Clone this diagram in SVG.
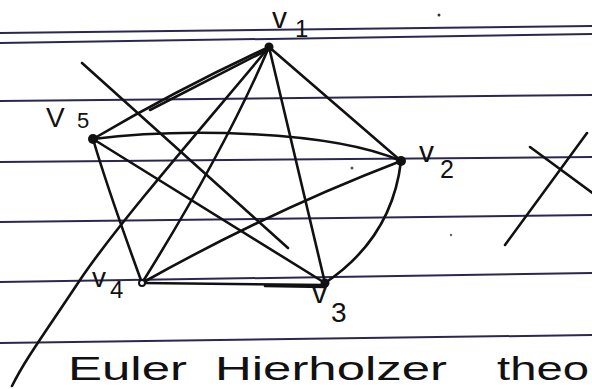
<svg xmlns="http://www.w3.org/2000/svg" width="592" height="389" viewBox="0 0 592 389">
  <style>
    .rule { stroke: #2a2850; stroke-width: 2; fill: none; }
    .edge { stroke: #111; stroke-width: 2.6; fill: none; stroke-linecap: round; }
    .dot { fill: #111; }
    .lbl { font-family: "Liberation Sans", "DejaVu Sans", sans-serif; fill: #111; }
    .big { font-family: "Liberation Sans", "DejaVu Sans", sans-serif; fill: #111; font-size: 33px; }
  </style>
  <rect width="592" height="389" fill="#ffffff"/>
  <g id="paper">
    <line class="rule" x1="0" y1="33" x2="592" y2="26"/>
    <line class="rule" x1="0" y1="43" x2="592" y2="34"/>
    <line class="rule" x1="0" y1="101" x2="592" y2="95"/>
    <line class="rule" x1="0" y1="162" x2="592" y2="157"/>
    <line class="rule" x1="0" y1="222" x2="592" y2="215"/>
    <line class="rule" x1="0" y1="282" x2="592" y2="273"/>
    <line class="rule" x1="0" y1="343" x2="592" y2="335"/>
    <circle cx="439" cy="15" r="1.5" fill="#333"/>
    <circle cx="352" cy="168" r="1.5" fill="#555"/>
    <circle cx="451" cy="235" r="1.2" fill="#666"/>
  </g>
  <g id="connectors">
    <path class="edge" d="M269,47 L401,161"/>
    <path class="edge" d="M269,47 L325,283"/>
    <path class="edge" d="M269,47 Q225,150 142,283"/>
    <path class="edge" d="M269,47 Q180,88 93,139"/>
    <path class="edge" d="M269,49 Q205,82 150,110"/>
    <path class="edge" d="M269,47 C230,95 120,220 80,280 S25,360 12,386"/>
    <path class="edge" d="M93,139 C180,128 330,130 401,161"/>
    <path class="edge" d="M93,139 L325,283"/>
    <path class="edge" d="M93,139 Q108,190 142,283"/>
    <path class="edge" d="M82,63 L288,248" stroke-width="2.8"/>
    <path class="edge" d="M401,161 Q268,212 142,283"/>
    <path class="edge" d="M401,161 Q392,238 325,283"/>
    <path class="edge" d="M142,283 L325,285"/>
    <path class="edge" d="M265,286 L325,287"/>
  </g>
  <g id="v1">
    <circle class="dot" cx="269" cy="47" r="4.5"/>
    <text class="lbl" x="272" y="28" font-size="30">v</text>
    <text class="lbl" x="295" y="37" font-size="24">1</text>
  </g>
  <g id="v2">
    <circle class="dot" cx="401" cy="161" r="5"/>
    <text class="lbl" x="419" y="162" font-size="30">v</text>
    <text class="lbl" x="440" y="178" font-size="25">2</text>
  </g>
  <g id="v3">
    <circle class="dot" cx="325" cy="283" r="4.5"/>
    <text class="lbl" x="312" y="303" font-size="30">v</text>
    <text class="lbl" x="331" y="322" font-size="28">3</text>
  </g>
  <g id="v4">
    <circle cx="142" cy="283" r="3" fill="#fff" stroke="#111" stroke-width="2"/>
    <text class="lbl" x="92" y="287" font-size="28">v</text>
    <text class="lbl" x="110" y="298" font-size="24">4</text>
  </g>
  <g id="v5">
    <circle class="dot" cx="93" cy="139" r="5"/>
    <text class="lbl" x="46" y="127" font-size="28">V</text>
    <text class="lbl" x="77" y="128" font-size="22">5</text>
  </g>
  <g id="cross">
    <path class="edge" d="M530,147 L594,194"/>
    <path class="edge" d="M587,133 L505,245"/>
  </g>
  <text class="big"><tspan x="68" y="380" textLength="119" lengthAdjust="spacingAndGlyphs">Euler</tspan><tspan x="215" y="380" textLength="232" lengthAdjust="spacingAndGlyphs">Hierholzer</tspan><tspan x="497" y="380" textLength="92" lengthAdjust="spacingAndGlyphs">theo</tspan></text>
</svg>
